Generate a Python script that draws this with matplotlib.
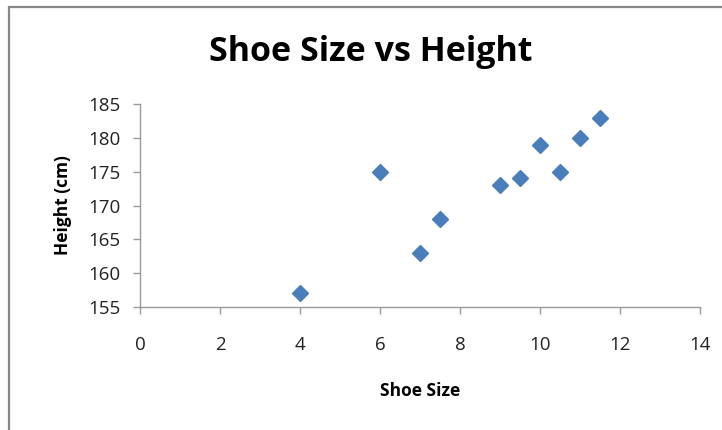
import matplotlib
matplotlib.use("Agg")
import matplotlib.pyplot as plt
from matplotlib.patches import Rectangle

shoe_size = [4, 6, 7, 7.5, 9, 9.5, 10, 10.5, 11, 11.5]
height_cm = [157, 175, 163, 168, 173, 174, 179, 175, 180, 183]
x_ticks = [0, 2, 4, 6, 8, 10, 12, 14]
y_ticks = [155, 160, 165, 170, 175, 180, 185]

plt.rcParams["font.family"] = ["Open Sans", "DejaVu Sans"]

fig = plt.figure(figsize=(7.22, 4.30), dpi=100)

# cadre gris du graphique (coupé à droite et en bas)
fig.patches.append(Rectangle((9 / 722, -0.1), 1.2, 1 - 7 / 430 + 0.1,
                             transform=fig.transFigure, fill=False,
                             edgecolor="#888888", linewidth=1.6))

ax = fig.add_axes([140 / 722, 1 - 307 / 430, 560 / 722, 203 / 430])
ax.plot(shoe_size, height_cm, linestyle="none", marker="D",
        markersize=8, color="#4a7ebb", clip_on=False)

ax.set_xlim(0, 14)
ax.set_ylim(155, 185)
ax.set_xticks(x_ticks)
ax.set_yticks(y_ticks)
for side in ["top", "right"]:
    ax.spines[side].set_visible(False)
for side in ["left", "bottom"]:
    ax.spines[side].set_color("#999999")
    ax.spines[side].set_linewidth(1)
ax.tick_params(colors="#999999", labelcolor="#222222", labelsize=13.5,
               length=5, width=1)
ax.tick_params(axis="x", pad=16)
ax.tick_params(axis="y", pad=9)

ax.set_xlabel("Shoe Size", fontsize=12.5, fontweight="bold", labelpad=20)
ax.set_ylabel("Height (cm)", fontsize=12.5, fontweight="bold", labelpad=12)
fig.text(371 / 722, 1 - 52 / 430, "Shoe Size vs Height", ha="center",
         va="center", fontsize=24.5, fontweight="bold")

fig.savefig("out.png", dpi=100)
